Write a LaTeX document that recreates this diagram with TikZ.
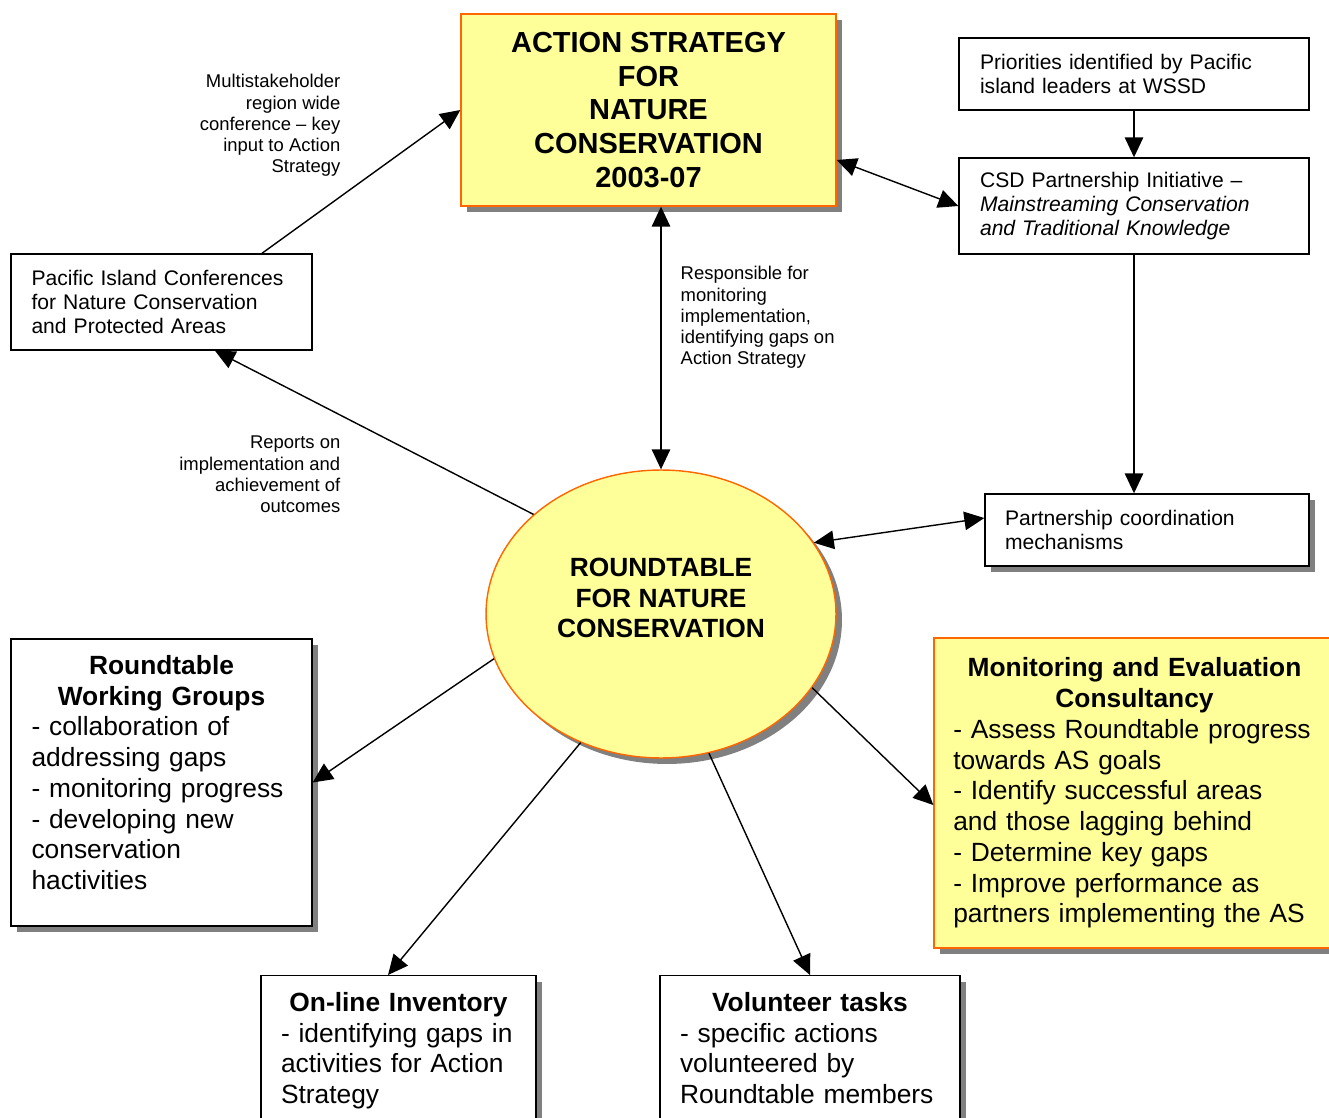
\documentclass[tikz,border=0pt]{standalone}
\usepackage{fontspec}
\setmainfont{Liberation Sans}
\usepackage{xcolor}
\usepackage{tikz}
\usetikzlibrary{shapes.geometric, shadows, arrows.meta}

\definecolor{paleyellow}{HTML}{FFFF99}
\definecolor{rimorange}{HTML}{FF6600}

\begin{document}
\begin{tikzpicture}[x=0.02cm, y=-0.02cm, line width=0.8pt,
    >={Triangle[length=0.4cm, width=0.37cm]},
    plainbox/.style={draw, rectangle, inner sep=0pt, align=left},
    shadowed/.style={drop shadow={shadow xshift=0.12cm, shadow yshift=-0.12cm, fill=black!50, opacity=1}},
    keybox/.style={plainbox, fill=paleyellow, draw=rimorange, shadowed},
    smalltext/.style={inner sep=0pt, font=\fontsize{10.5}{12.1}\selectfont},
    boxtext/.style={font=\fontsize{12}{13.8}\selectfont},
    bigtext/.style={font=\fontsize{15}{17.5}\selectfont},
    heading/.style={font=\fontsize{15}{17.5}\selectfont\bfseries}]
    \clip (0,0) rectangle (1329,1118);

    % top row
    \node[keybox, align=center, minimum width=7.5cm, minimum height=3.84cm,
          font=\fontsize{16.5}{19.3}\selectfont\bfseries] (as) at (648.5,110)
          {ACTION STRATEGY\\FOR\\NATURE\\CONSERVATION\\2003-07};
    \node[plainbox, boxtext, text width=6.16cm, minimum width=7cm, minimum height=1.44cm] (prio) at (1134,74)
          {Priorities identified by Pacific\\island leaders at WSSD};
    \node[plainbox, boxtext, text width=6.16cm, minimum width=7cm, minimum height=1.92cm] (csd) at (1134,206)
          {CSD Partnership Initiative --\\\textit{Mainstreaming Conservation}\\\textit{and Traditional Knowledge}};
    \node[plainbox, boxtext, text width=5.2cm, minimum width=6.02cm, minimum height=1.92cm] (pic) at (161.5,302)
          {Pacific Island Conferences\\for Nature Conservation\\and Protected Areas};
    \node[plainbox, boxtext, text width=5.68cm, minimum width=6.48cm, minimum height=1.44cm, shadowed, fill=white] (part) at (1147,530)
          {Partnership coordination\\mechanisms};

    % roundtable
    \node[ellipse, draw=rimorange, fill=paleyellow, shadowed, inner sep=0pt,
          minimum width=7cm, minimum height=5.76cm] (rt) at (661,614) {};
    \node[heading, align=center] (rt-label) at (661,598) {ROUNDTABLE\\FOR NATURE\\CONSERVATION};

    % lower boxes
    \node[plainbox, bigtext, text width=5.2cm, minimum width=6.02cm, minimum height=5.74cm, shadowed, fill=white] (wg) at (161.5,782.5)
          {{\centering\bfseries Roundtable\\Working Groups\par}- collaboration of\\addressing gaps\\- monitoring progress\\- developing new\\conservation\\hactivities\rule[-0.4cm]{0pt}{0.4cm}};
    \node[keybox, bigtext, text width=7.25cm, minimum width=8.02cm, minimum height=6.2cm] (me) at (1134.5,793)
          {{\centering\bfseries Monitoring and Evaluation\\Consultancy\par}- Assess Roundtable progress\\towards AS goals\\- Identify successful areas\\and those lagging behind\\- Determine key gaps\\- Improve performance as\\partners implementing the AS};
    \node[plainbox, bigtext, anchor=north, text width=4.7cm, minimum width=5.5cm, inner ysep=0.33cm, shadowed, fill=white] (inv) at (398.5,975)
          {{\centering\bfseries On-line Inventory\par}- identifying gaps in\\activities for Action\\Strategy};
    \node[plainbox, bigtext, anchor=north, text width=5.2cm, minimum width=6cm, inner ysep=0.33cm, shadowed, fill=white] (vol) at (810,975)
          {{\centering\bfseries Volunteer tasks\par}- specific actions\\volunteered by\\Roundtable members};

    % connector labels
    \node[smalltext, align=right, anchor=east] (conf-label) at (341,125.5)
          {Multistakeholder\\region wide\\conference -- key\\input to Action\\Strategy};
    \node[smalltext, align=left, anchor=west] (resp-label) at (680,317.5)
          {Responsible for\\monitoring\\implementation,\\identifying gaps on\\Action Strategy};
    \node[smalltext, align=right, anchor=east] (rep-label) at (341,474.5)
          {Reports on\\implementation and\\achievement of\\outcomes};

    \path[->]
    ([xshift=2.01cm]pic.north) edge (as.west)
    ([yshift=-1cm]as.east) edge[<->] (csd.west)
    (prio.south) edge (csd.north)
    (csd.south) edge (csd.south |- part.north)
    (rt.north |- as.south) edge[<->] (rt.north)
    (rt.142) edge ([xshift=1.07cm]pic.south)
    (rt.25) edge[<->] ([yshift=0.24cm]part.west)
    (rt.195) edge (wg.east)
    (rt.238) edge ([xshift=-0.21cm]inv.north)
    (rt.289) edge (vol.north)
    (rt.334) edge ([yshift=-0.24cm]me.west);
\end{tikzpicture}
\end{document}
